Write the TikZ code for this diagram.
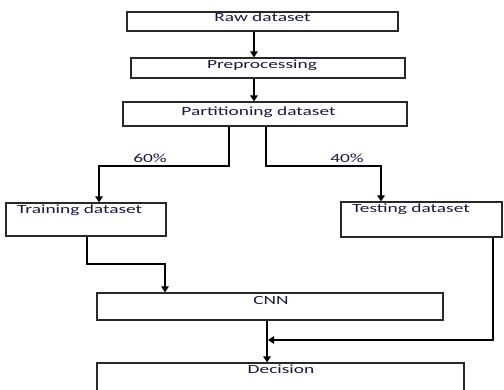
\documentclass[tikz,border=0pt]{standalone}
\usepackage{fontspec}
\usepackage{graphicx}
\setmainfont{Carlito}[AutoFakeBold=1.2]
\usetikzlibrary{arrows.meta}
\definecolor{txtc}{RGB}{25,25,60}
\definecolor{linec}{RGB}{40,40,40}
\newcommand{\sx}[1]{\scalebox{1.55}[1]{#1}}
\begin{document}
\begin{tikzpicture}[x=1pt,y=-1pt,
  box/.style={draw=linec,line width=1.2pt,rectangle,inner sep=0pt,fill=none},
  lbl/.style={inner sep=0pt,text=txtc,font=\fontsize{12.5}{14}\selectfont},
  arr/.style={draw=black,line width=1.2pt,-{Triangle[width=7.5pt,length=6pt]}},
  ln/.style={draw=black,line width=1.2pt}]
\useasboundingbox (0,0) rectangle (504,389);
\clip (0,0) rectangle (504,389);
% boxes
\node[box,minimum width=271pt,minimum height=19pt] (raw) at (262.5,21.5) {};
\node[box,minimum width=274pt,minimum height=20pt] (prep) at (268,68) {};
\node[box,minimum width=284pt,minimum height=24pt] (part) at (265,114) {};
\node[box,minimum width=160pt,minimum height=33pt] (train) at (86,219.5) {};
\node[box,minimum width=161pt,minimum height=35pt] (test) at (421.5,219.5) {};
\node[box,minimum width=346pt,minimum height=27pt] (cnn) at (270,306.5) {};
\node[box,minimum width=367pt,minimum height=32pt] (dec) at (280.5,379) {};
% texts
\node[lbl,anchor=base] (traw) at (262.5,21) {\sx{Raw dataset}};
\node[lbl,anchor=base] (tprep) at (262,68) {\sx{Preprocessing}};
\node[lbl,anchor=base] (tpart) at (258.5,115) {\sx{Partitioning dataset}};
\node[lbl,anchor=base west] (ttrain) at (17,213) {\sx{Training dataset}};
\node[lbl,anchor=base west] (ttest) at (352,212) {\sx{Testing dataset}};
\node[lbl,anchor=base] (tcnn) at (271,304) {\sx{CNN}};
\node[lbl,anchor=base] (tdec) at (281,373) {\sx{Decision}};
\node[lbl,anchor=base] (p60) at (150,162) {\sx{60\%}};
\node[lbl,anchor=base] (p40) at (347,162) {\sx{40\%}};
% coordinates
\coordinate (a1) at (254,0);
\coordinate (sl) at (229,166);
\coordinate (tl) at (99,166);
\coordinate (sr) at (266,166);
\coordinate (tr) at (381,166);
\coordinate (b1) at (87,264);
\coordinate (b2) at (165,264);
\coordinate (c1) at (267,0);
\coordinate (d1) at (493,340);
\coordinate (d2) at (268,340);
% connectors
\draw[arr] (raw.south -| a1) -- (prep.north -| a1);
\draw[arr] (prep.south -| a1) -- (part.north -| a1);
\draw[arr] (part.south -| sl) -- (sl) -- (tl) -- (train.north -| tl);
\draw[arr] (part.south -| sr) -- (sr) -- (tr) -- (test.north -| tr);
\draw[arr] (train.south -| b1) -- (b1) -- (b2) -- (cnn.north -| b2);
\draw[arr] (cnn.south -| c1) -- (dec.north -| c1);
\draw[arr] (test.south -| d1) -- (d1) -- (d2);
\end{tikzpicture}
\end{document}
